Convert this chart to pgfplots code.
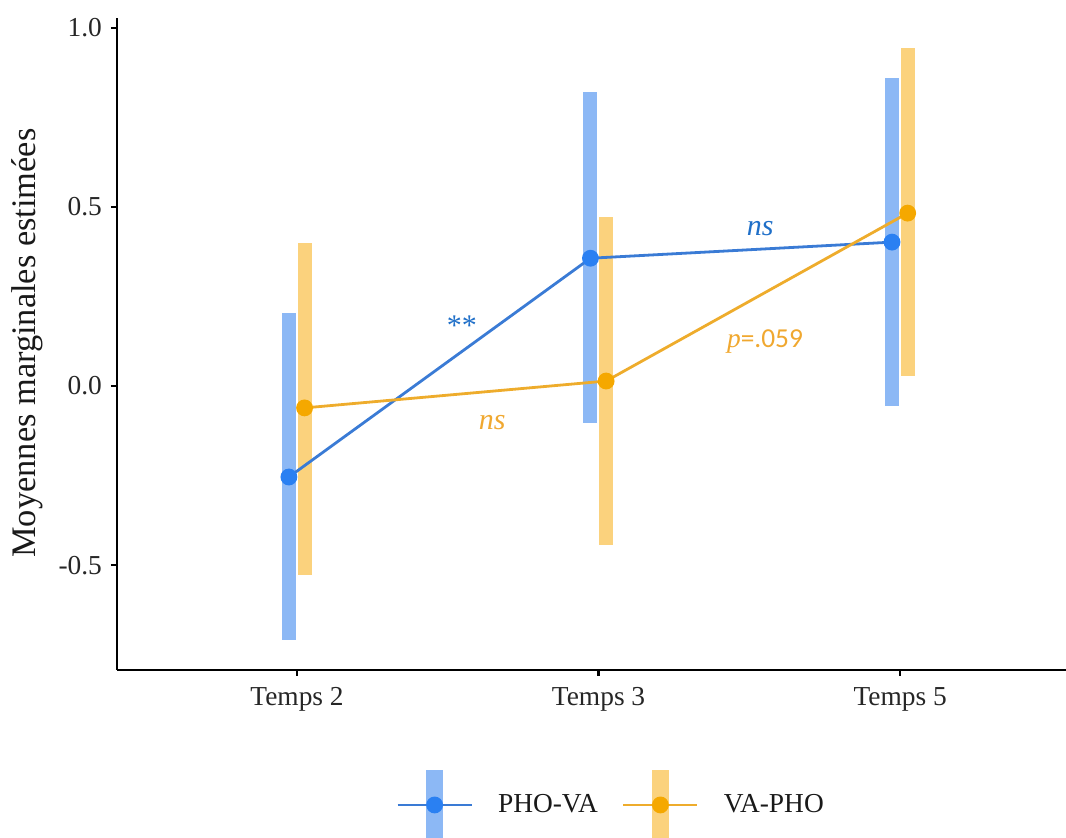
\documentclass[border=0pt]{standalone}
\usepackage{fontspec}
\setmainfont{Liberation Serif}
\newfontfamily\carlito{Carlito}
\usepackage{pgfplots}
\usepackage{pgfplotstable}
\pgfplotsset{compat=1.18}
\definecolor{bluebar}{HTML}{8CB8F5}
\definecolor{blueline}{HTML}{3A7BD5}
\definecolor{bluept}{HTML}{2A80F2}
\definecolor{bluetxt}{HTML}{1F6FC8}
\definecolor{orangebar}{HTML}{FBD27D}
\definecolor{orangeline}{HTML}{EEAC2C}
\definecolor{orangept}{HTML}{F5A800}
\definecolor{orangetxt}{HTML}{F0A830}
\pgfplotstableread{
x y ep em
-0.027 -0.254 0.458 0.455
0.973 0.357 0.464 0.460
1.973 0.402 0.458 0.458
}\bluedata
\pgfplotstableread{
x y ep em
0.025 -0.061 0.461 0.467
1.025 0.014 0.458 0.458
2.025 0.483 0.461 0.455
}\orangedata
\newcommand{\fs}{\fontsize{13.7pt}{16pt}\selectfont}
\newcommand{\fa}{\fontsize{15pt}{18pt}\selectfont}
\begin{document}
\begin{tikzpicture}
\useasboundingbox (-58.5pt,-84pt) rectangle (474.5pt,335pt);
\begin{axis}[
  at={(0pt,0pt)}, anchor=south west,
  scale only axis, width=474.5pt, height=326pt,
  xmin=-0.597, xmax=2.55, ymin=-0.793, ymax=1.028,
  axis x line*=bottom, axis y line*=left,
  every outer x axis line/.append style={-},
  every outer y axis line/.append style={-},
  every inner x axis line/.append style={-},
  every inner y axis line/.append style={-},
  axis line style={line width=1.25pt, black},
  xtick={0,1,2}, xticklabels={Temps 2,Temps 3,Temps 5},
  ytick={-0.5,0,0.5,1}, yticklabels={-0.5,0.0,0.5,1.0},
  tick align=outside, major tick length=3pt,
  tick style={line width=1.25pt, black},
  tick label style={font=\fs, text=black!85},
  /pgf/number format/assume math mode=true,
  xticklabel style={yshift=-2pt},
  yticklabel style={xshift=-1pt},
  ylabel={Moyennes marginales estimées},
  ylabel style={font=\fontsize{17.2pt}{20pt}\selectfont, text=black!90, at={(axis description cs:-0.0948,0.5015)}, anchor=center},
  legend style={at={(axis description cs:0.5216,-0.207)}, anchor=center, draw=none, fill=none, legend columns=2, font=\fs, text=black!90,
    /tikz/every even column/.append style={column sep=10pt}},
  clip=false,
]
\addplot[forget plot, only marks, mark=none,
  error bars/.cd, y dir=both, y explicit, error mark=none,
  error bar style={line width=7pt, color=bluebar}]
  table[x=x, y=y, y error plus=ep, y error minus=em]{\bluedata};
\addplot[forget plot, only marks, mark=none,
  error bars/.cd, y dir=both, y explicit, error mark=none,
  error bar style={line width=7pt, color=orangebar}]
  table[x=x, y=y, y error plus=ep, y error minus=em]{\orangedata};
\addplot[blueline, line width=1.4pt, mark=*, mark size=3.5pt,
  mark options={fill=bluept, draw=bluept},
  legend image code/.code={
    \fill[bluebar] (15pt,-17pt) rectangle (22pt,17pt);
    \draw[blueline, line width=1.4pt] (0pt,0pt) -- (37pt,0pt);
    \fill[bluept] (18.5pt,0pt) circle (3.5pt);
    \path (47.5pt,0pt);
  }]
  table[x=x, y=y]{\bluedata};
\addlegendentry{PHO-VA}
\addplot[orangeline, line width=1.4pt, mark=*, mark size=3.5pt,
  mark options={fill=orangept, draw=orangept},
  legend image code/.code={
    \fill[orangebar] (15pt,-17pt) rectangle (22pt,17pt);
    \draw[orangeline, line width=1.4pt] (0pt,0pt) -- (37pt,0pt);
    \fill[orangept] (18.5pt,0pt) circle (3.5pt);
    \path (47.5pt,0pt);
  }]
  table[x=x, y=y]{\orangedata};
\addlegendentry{VA-PHO}
\node[font=\fa, text=bluetxt] at (axis cs:0.547,0.170) {**};
\node[font=\fa, text=orangetxt] at (axis cs:0.647,-0.103) {\textit{ns}};
\node[font=\fa, text=bluetxt] at (axis cs:1.536,0.441) {\textit{ns}};
\node[font=\fs, text=orangetxt] at (axis cs:1.552,0.123) {\textit{p}{\carlito=.059}};
\end{axis}
\end{tikzpicture}
\end{document}
